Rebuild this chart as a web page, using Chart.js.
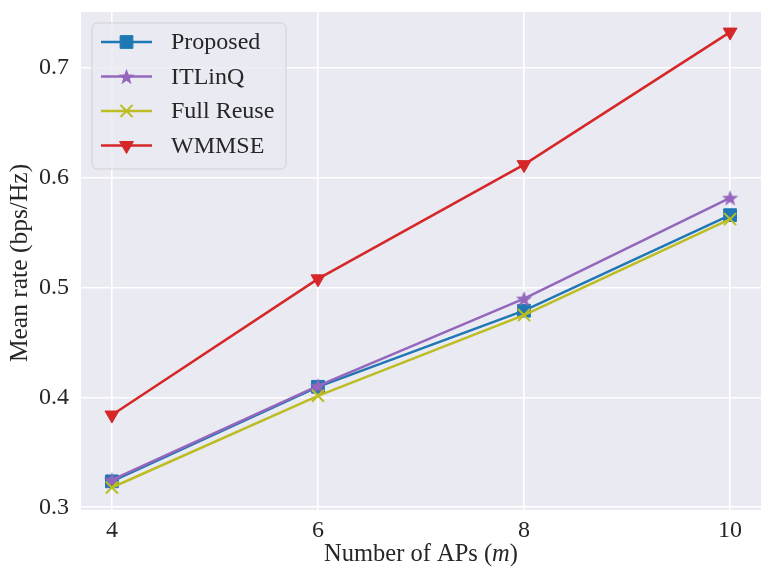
<!DOCTYPE html>
<html>
<head>
<meta charset="utf-8">
<script src="https://cdn.jsdelivr.net/npm/chart.js@4.4.1/dist/chart.umd.min.js"></script>
<style>
  body { margin: 0; background: #fff; }
  #wrap { width: 773px; height: 581px; }
</style>
</head>
<body>
<div id="wrap"><canvas id="chart" width="773" height="581"></canvas></div>
<script>
const apCounts = [4, 6, 8, 10];
const proposed = [0.3236, 0.4097, 0.479, 0.566];
const itlinq = [0.325, 0.4106, 0.490, 0.5818];
const fullReuse = [0.318, 0.4015, 0.475, 0.5624];
const wmmse = [0.384, 0.508, 0.612, 0.7327];
const xTicks = [4, 6, 8, 10];
const yTicks = [0.3, 0.4, 0.5, 0.6, 0.7];
const seriesNames = ['Proposed', 'ITLinQ', 'Full Reuse', 'WMMSE'];

const FONT = '"Liberation Serif", "Times New Roman", serif';
const TEXT = '#262626';

function makeStar(color, size) {
  const c = document.createElement('canvas');
  c.width = size; c.height = size;
  const g = c.getContext('2d');
  const cx = size / 2, cy = size / 2 + 0.8, R = size / 2, r = R * 0.42;
  g.beginPath();
  for (let i = 0; i < 10; i++) {
    const rad = (i % 2 === 0) ? R : r;
    const a = -Math.PI / 2 + i * Math.PI / 5;
    g.lineTo(cx + rad * Math.cos(a), cy + rad * Math.sin(a));
  }
  g.closePath();
  g.fillStyle = color;
  g.fill();
  return c;
}

const styles = [
  { color: '#1f77b4', pointStyle: 'rect', radius: 9, rotation: 0, order: 4 },
  { color: '#9467bd', pointStyle: makeStar('#9467bd', 17), radius: 8, rotation: 0, order: 3 },
  { color: '#bcbd22', pointStyle: 'crossRot', radius: 8.5, rotation: 0, order: 2 },
  { color: '#d62728', pointStyle: 'triangle', radius: 8, rotation: 180, order: 1 }
];
const seriesValues = [proposed, itlinq, fullReuse, wmmse];

const datasets = seriesNames.map((name, i) => ({
  label: name,
  data: apCounts.map((x, j) => ({ x: x, y: seriesValues[i][j] })),
  borderColor: styles[i].color,
  backgroundColor: styles[i].color,
  borderWidth: 2.5,
  pointStyle: styles[i].pointStyle,
  pointRadius: styles[i].radius,
  pointRotation: styles[i].rotation,
  pointBackgroundColor: styles[i].color,
  pointBorderColor: styles[i].color,
  pointBorderWidth: i === 2 ? 2 : 1,
  order: styles[i].order,
  tension: 0
}));

const decor = {
  id: 'decor',
  beforeDraw(chart) {
    const { ctx, chartArea: a } = chart;
    ctx.save();
    ctx.fillStyle = '#eaeaf2';
    ctx.fillRect(a.left, a.top, a.right - a.left, a.bottom - a.top);
    ctx.restore();
  },
  afterDraw(chart) {
    const { ctx, chartArea: a } = chart;
    ctx.save();
    // y title
    ctx.fillStyle = TEXT;
    ctx.font = '25.5px ' + FONT;
    ctx.textAlign = 'center';
    ctx.textBaseline = 'middle';
    ctx.translate(20, (a.top + a.bottom) / 2 + 2);
    ctx.rotate(-Math.PI / 2);
    ctx.fillText('Mean rate (bps/Hz)', 0, 0);
    ctx.restore();

    // x title with italic m
    ctx.save();
    ctx.fillStyle = TEXT;
    ctx.textBaseline = 'middle';
    ctx.textAlign = 'left';
    const parts = [['Number of APs (', '24.5px '], ['m', 'italic 24.5px '], [')', '24.5px ']];
    let total = 0;
    parts.forEach(p => { ctx.font = p[1] + FONT; total += ctx.measureText(p[0]).width; });
    let x = (a.left + a.right) / 2 - total / 2;
    parts.forEach(p => {
      ctx.font = p[1] + FONT;
      ctx.fillText(p[0], x, 555);
      x += ctx.measureText(p[0]).width;
    });
    ctx.restore();

    // legend
    ctx.save();
    const bx = 92, by = 23, bw = 194, bh = 146;
    ctx.beginPath();
    ctx.roundRect(bx, by, bw, bh, 5);
    ctx.fillStyle = 'rgba(234,234,242,0.8)';
    ctx.fill();
    ctx.strokeStyle = 'rgba(204,204,204,0.8)';
    ctx.lineWidth = 1;
    ctx.stroke();
    seriesNames.forEach((name, i) => {
      const y = 42 + i * 34.5;
      const s = styles[i];
      ctx.strokeStyle = s.color;
      ctx.fillStyle = s.color;
      ctx.lineWidth = 2.5;
      ctx.beginPath();
      ctx.moveTo(101, y);
      ctx.lineTo(152, y);
      ctx.stroke();
      ctx.lineWidth = i === 2 ? 2 : 1;
      Chart.helpers.drawPoint(ctx, { pointStyle: s.pointStyle, radius: s.radius, rotation: s.rotation, borderWidth: ctx.lineWidth }, 126.5, y);
      ctx.fillStyle = TEXT;
      ctx.font = '24px ' + FONT;
      ctx.textAlign = 'left';
      ctx.textBaseline = 'middle';
      ctx.fillText(name, 171, y + 1);
    });
    ctx.restore();
  }
};

new Chart(document.getElementById('chart'), {
  type: 'line',
  data: { datasets: datasets },
  options: {
    responsive: false,
    animation: false,
    layout: { padding: { left: 0, top: 12, right: 12, bottom: 0 } },
    plugins: { legend: { display: false }, tooltip: { enabled: false } },
    scales: {
      x: {
        type: 'linear',
        min: 3.7,
        max: 10.3,
        afterBuildTicks: axis => { axis.ticks = xTicks.map(v => ({ value: v })); },
        afterFit: axis => { axis.height = 71; axis.paddingLeft = 0; axis.paddingRight = 0; },
        grid: { color: '#ffffff', lineWidth: 1.6, drawTicks: false },
        border: { display: false },
        ticks: { color: TEXT, font: { family: FONT, size: 24 }, padding: 6, callback: v => String(v), maxRotation: 0 }
      },
      y: {
        type: 'linear',
        min: 0.2975,
        max: 0.751,
        afterBuildTicks: axis => { axis.ticks = yTicks.map(v => ({ value: v })); },
        afterFit: axis => { axis.width = 81; axis.paddingTop = 0; axis.paddingBottom = 0; },
        grid: { color: '#ffffff', lineWidth: 1.6, drawTicks: false },
        border: { display: false },
        ticks: { color: TEXT, font: { family: FONT, size: 24 }, padding: 12, callback: v => v.toFixed(1) }
      }
    }
  },
  plugins: [decor]
});
</script>
</body>
</html>
